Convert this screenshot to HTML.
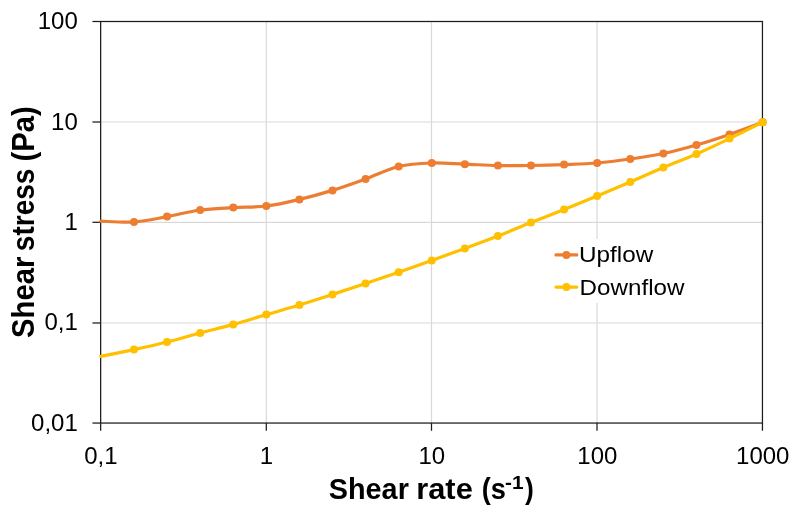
<!DOCTYPE html>
<html lang="en"><head><meta charset="utf-8"><title>Flow curve</title>
<style>
html,body{margin:0;padding:0;background:#fff;}
body{width:800px;height:510px;overflow:hidden;}
svg{display:block;}
text{font-family:"Liberation Sans",sans-serif;fill:#000;}
.tick{font-size:24.0px;}
.leg{font-size:22.5px;}
.ttl{font-size:30.0px;font-weight:bold;}
.sup{font-size:19px;}
.yt{font-size:31px;}
</style></head><body>
<svg width="800" height="510" viewBox="0 0 800 510">
<rect x="0" y="0" width="800" height="510" fill="#fff"/>
<line x1="266.30" y1="21.50" x2="266.30" y2="423.05" stroke="#D9D9D9" stroke-width="1.2"/>
<line x1="431.50" y1="21.50" x2="431.50" y2="423.05" stroke="#D9D9D9" stroke-width="1.2"/>
<line x1="597.00" y1="21.50" x2="597.00" y2="423.05" stroke="#D9D9D9" stroke-width="1.2"/>
<line x1="100.65" y1="122.00" x2="762.45" y2="122.00" stroke="#D9D9D9" stroke-width="1.2"/>
<line x1="100.65" y1="222.30" x2="762.45" y2="222.30" stroke="#D9D9D9" stroke-width="1.2"/>
<line x1="100.65" y1="323.00" x2="762.45" y2="323.00" stroke="#D9D9D9" stroke-width="1.2"/>
<rect x="100.65" y="21.50" width="661.80" height="401.55" fill="none" stroke="#1c1c1c" stroke-width="1.25"/>
<line x1="100.65" y1="423.05" x2="100.65" y2="430.75" stroke="#1c1c1c" stroke-width="1.25"/>
<line x1="92.45" y1="21.50" x2="100.65" y2="21.50" stroke="#1c1c1c" stroke-width="1.25"/>
<line x1="266.30" y1="423.05" x2="266.30" y2="430.75" stroke="#1c1c1c" stroke-width="1.25"/>
<line x1="92.45" y1="122.00" x2="100.65" y2="122.00" stroke="#1c1c1c" stroke-width="1.25"/>
<line x1="431.50" y1="423.05" x2="431.50" y2="430.75" stroke="#1c1c1c" stroke-width="1.25"/>
<line x1="92.45" y1="222.30" x2="100.65" y2="222.30" stroke="#1c1c1c" stroke-width="1.25"/>
<line x1="597.00" y1="423.05" x2="597.00" y2="430.75" stroke="#1c1c1c" stroke-width="1.25"/>
<line x1="92.45" y1="323.00" x2="100.65" y2="323.00" stroke="#1c1c1c" stroke-width="1.25"/>
<line x1="762.45" y1="423.05" x2="762.45" y2="430.75" stroke="#1c1c1c" stroke-width="1.25"/>
<line x1="92.45" y1="423.05" x2="100.65" y2="423.05" stroke="#1c1c1c" stroke-width="1.25"/>
<path d="M100.90 221.20 C106.41 221.33 122.96 222.77 133.99 222.00 C145.01 221.23 156.04 218.60 167.07 216.60 C178.10 214.60 189.13 211.50 200.16 210.00 C211.18 208.50 222.21 208.27 233.24 207.60 C244.27 206.93 255.30 207.37 266.33 206.00 C277.35 204.63 288.38 202.00 299.41 199.40 C310.44 196.80 321.47 193.80 332.50 190.40 C343.52 187.00 354.55 182.98 365.58 179.00 C376.61 175.02 387.64 169.17 398.67 166.50 C409.69 163.83 420.72 163.38 431.75 163.00 C442.78 162.62 453.81 163.77 464.84 164.20 C475.86 164.63 486.89 165.38 497.92 165.60 C508.95 165.82 519.98 165.67 531.00 165.50 C542.03 165.33 553.06 165.02 564.09 164.60 C575.12 164.18 586.15 163.93 597.18 163.00 C608.20 162.07 619.23 160.58 630.26 159.00 C641.29 157.42 652.32 155.83 663.35 153.50 C674.37 151.17 685.40 148.18 696.43 145.00 C707.46 141.82 718.49 138.18 729.51 134.40 C740.54 130.62 757.09 124.32 762.60 122.30" fill="none" stroke="#ED7D31" stroke-width="3.2" stroke-linecap="round" stroke-linejoin="round"/>
<circle cx="133.99" cy="222.00" r="4" fill="#ED7D31"/>
<circle cx="167.07" cy="216.60" r="4" fill="#ED7D31"/>
<circle cx="200.16" cy="210.00" r="4" fill="#ED7D31"/>
<circle cx="233.24" cy="207.60" r="4" fill="#ED7D31"/>
<circle cx="266.33" cy="206.00" r="4" fill="#ED7D31"/>
<circle cx="299.41" cy="199.40" r="4" fill="#ED7D31"/>
<circle cx="332.50" cy="190.40" r="4" fill="#ED7D31"/>
<circle cx="365.58" cy="179.00" r="4" fill="#ED7D31"/>
<circle cx="398.67" cy="166.50" r="4" fill="#ED7D31"/>
<circle cx="431.75" cy="163.00" r="4" fill="#ED7D31"/>
<circle cx="464.84" cy="164.20" r="4" fill="#ED7D31"/>
<circle cx="497.92" cy="165.60" r="4" fill="#ED7D31"/>
<circle cx="531.00" cy="165.50" r="4" fill="#ED7D31"/>
<circle cx="564.09" cy="164.60" r="4" fill="#ED7D31"/>
<circle cx="597.18" cy="163.00" r="4" fill="#ED7D31"/>
<circle cx="630.26" cy="159.00" r="4" fill="#ED7D31"/>
<circle cx="663.35" cy="153.50" r="4" fill="#ED7D31"/>
<circle cx="696.43" cy="145.00" r="4" fill="#ED7D31"/>
<circle cx="729.51" cy="134.40" r="4" fill="#ED7D31"/>
<circle cx="762.60" cy="122.30" r="4" fill="#ED7D31"/>
<path d="M100.90 356.40 C106.41 355.27 122.96 352.00 133.99 349.60 C145.01 347.20 156.04 344.77 167.07 342.00 C178.10 339.23 189.13 335.93 200.16 333.00 C211.18 330.07 222.21 327.47 233.24 324.40 C244.27 321.33 255.30 317.83 266.33 314.60 C277.35 311.37 288.38 308.37 299.41 305.00 C310.44 301.63 321.47 297.97 332.50 294.40 C343.52 290.83 354.55 287.30 365.58 283.60 C376.61 279.90 387.64 276.07 398.67 272.20 C409.69 268.33 420.72 264.37 431.75 260.40 C442.78 256.43 453.81 252.47 464.84 248.40 C475.86 244.33 486.89 240.30 497.92 236.00 C508.95 231.70 519.98 227.00 531.00 222.60 C542.03 218.20 553.06 214.03 564.09 209.60 C575.12 205.17 586.15 200.60 597.18 196.00 C608.20 191.40 619.23 186.75 630.26 182.00 C641.29 177.25 652.32 172.17 663.35 167.50 C674.37 162.83 685.40 158.82 696.43 154.00 C707.46 149.18 718.49 143.88 729.51 138.60 C740.54 133.32 757.09 125.02 762.60 122.30" fill="none" stroke="#FFC000" stroke-width="3.2" stroke-linecap="round" stroke-linejoin="round"/>
<circle cx="133.99" cy="349.60" r="4" fill="#FFC000"/>
<circle cx="167.07" cy="342.00" r="4" fill="#FFC000"/>
<circle cx="200.16" cy="333.00" r="4" fill="#FFC000"/>
<circle cx="233.24" cy="324.40" r="4" fill="#FFC000"/>
<circle cx="266.33" cy="314.60" r="4" fill="#FFC000"/>
<circle cx="299.41" cy="305.00" r="4" fill="#FFC000"/>
<circle cx="332.50" cy="294.40" r="4" fill="#FFC000"/>
<circle cx="365.58" cy="283.60" r="4" fill="#FFC000"/>
<circle cx="398.67" cy="272.20" r="4" fill="#FFC000"/>
<circle cx="431.75" cy="260.40" r="4" fill="#FFC000"/>
<circle cx="464.84" cy="248.40" r="4" fill="#FFC000"/>
<circle cx="497.92" cy="236.00" r="4" fill="#FFC000"/>
<circle cx="531.00" cy="222.60" r="4" fill="#FFC000"/>
<circle cx="564.09" cy="209.60" r="4" fill="#FFC000"/>
<circle cx="597.18" cy="196.00" r="4" fill="#FFC000"/>
<circle cx="630.26" cy="182.00" r="4" fill="#FFC000"/>
<circle cx="663.35" cy="167.50" r="4" fill="#FFC000"/>
<circle cx="696.43" cy="154.00" r="4" fill="#FFC000"/>
<circle cx="729.51" cy="138.60" r="4" fill="#FFC000"/>
<circle cx="762.60" cy="122.30" r="4" fill="#FFC000"/>
<rect x="550" y="239" width="140" height="63.8" fill="#fff"/>
<line x1="556" y1="254.9" x2="576.8" y2="254.9" stroke="#ED7D31" stroke-width="3.2" stroke-linecap="round"/>
<circle cx="566.4" cy="254.9" r="4" fill="#ED7D31"/>
<text class="leg" transform="translate(579.01 262.00) scale(1.0791 1)">Upflow</text>
<line x1="556" y1="287.1" x2="576.8" y2="287.1" stroke="#FFC000" stroke-width="3.2" stroke-linecap="round"/>
<circle cx="566.4" cy="287.1" r="4" fill="#FFC000"/>
<text class="leg" transform="translate(579.52 294.60) scale(1.0768 1)">Downflow</text>
<text class="tick" text-anchor="end" transform="translate(77.80 29.30) scale(1.0000 1)">100</text>
<text class="tick" text-anchor="end" transform="translate(77.80 129.69) scale(1.0000 1)">10</text>
<text class="tick" text-anchor="end" transform="translate(77.80 230.08) scale(1.0000 1)">1</text>
<text class="tick" text-anchor="end" transform="translate(77.80 330.46) scale(1.0000 1)">0,1</text>
<text class="tick" text-anchor="end" transform="translate(77.80 430.85) scale(1.0000 1)">0,01</text>
<text class="tick" text-anchor="middle" transform="translate(100.95 464.40) scale(1.0000 1)">0,1</text>
<text class="tick" text-anchor="middle" transform="translate(266.40 464.40) scale(1.0000 1)">1</text>
<text class="tick" text-anchor="middle" transform="translate(431.85 464.40) scale(1.0000 1)">10</text>
<text class="tick" text-anchor="middle" transform="translate(597.30 464.40) scale(1.0000 1)">100</text>
<text class="tick" text-anchor="middle" transform="translate(762.75 464.40) scale(1.0000 1)">1000</text>
<text class="ttl" transform="translate(328.79 498.90) scale(0.9604 1)">Shear</text>
<text class="ttl" transform="translate(416.19 498.90) scale(1.0288 1)">rate</text>
<text class="ttl" transform="translate(481.64 498.90) scale(0.9062 1)">(s</text>
<text class="ttl" transform="translate(525.00 498.90) scale(0.8824 1)">)</text>
<text class="ttl sup" transform="translate(504.98 488.60) scale(1.0935 1)">-1</text>
<text class="ttl yt" transform="translate(34.40 337.94) rotate(-90) scale(0.9440 1)">Shear</text>
<text class="ttl yt" transform="translate(34.40 251.13) rotate(-90) scale(0.9037 1)">stress</text>
<text class="ttl yt" transform="translate(34.40 161.41) rotate(-90) scale(0.9405 1)">(Pa)</text>
</svg></body></html>
